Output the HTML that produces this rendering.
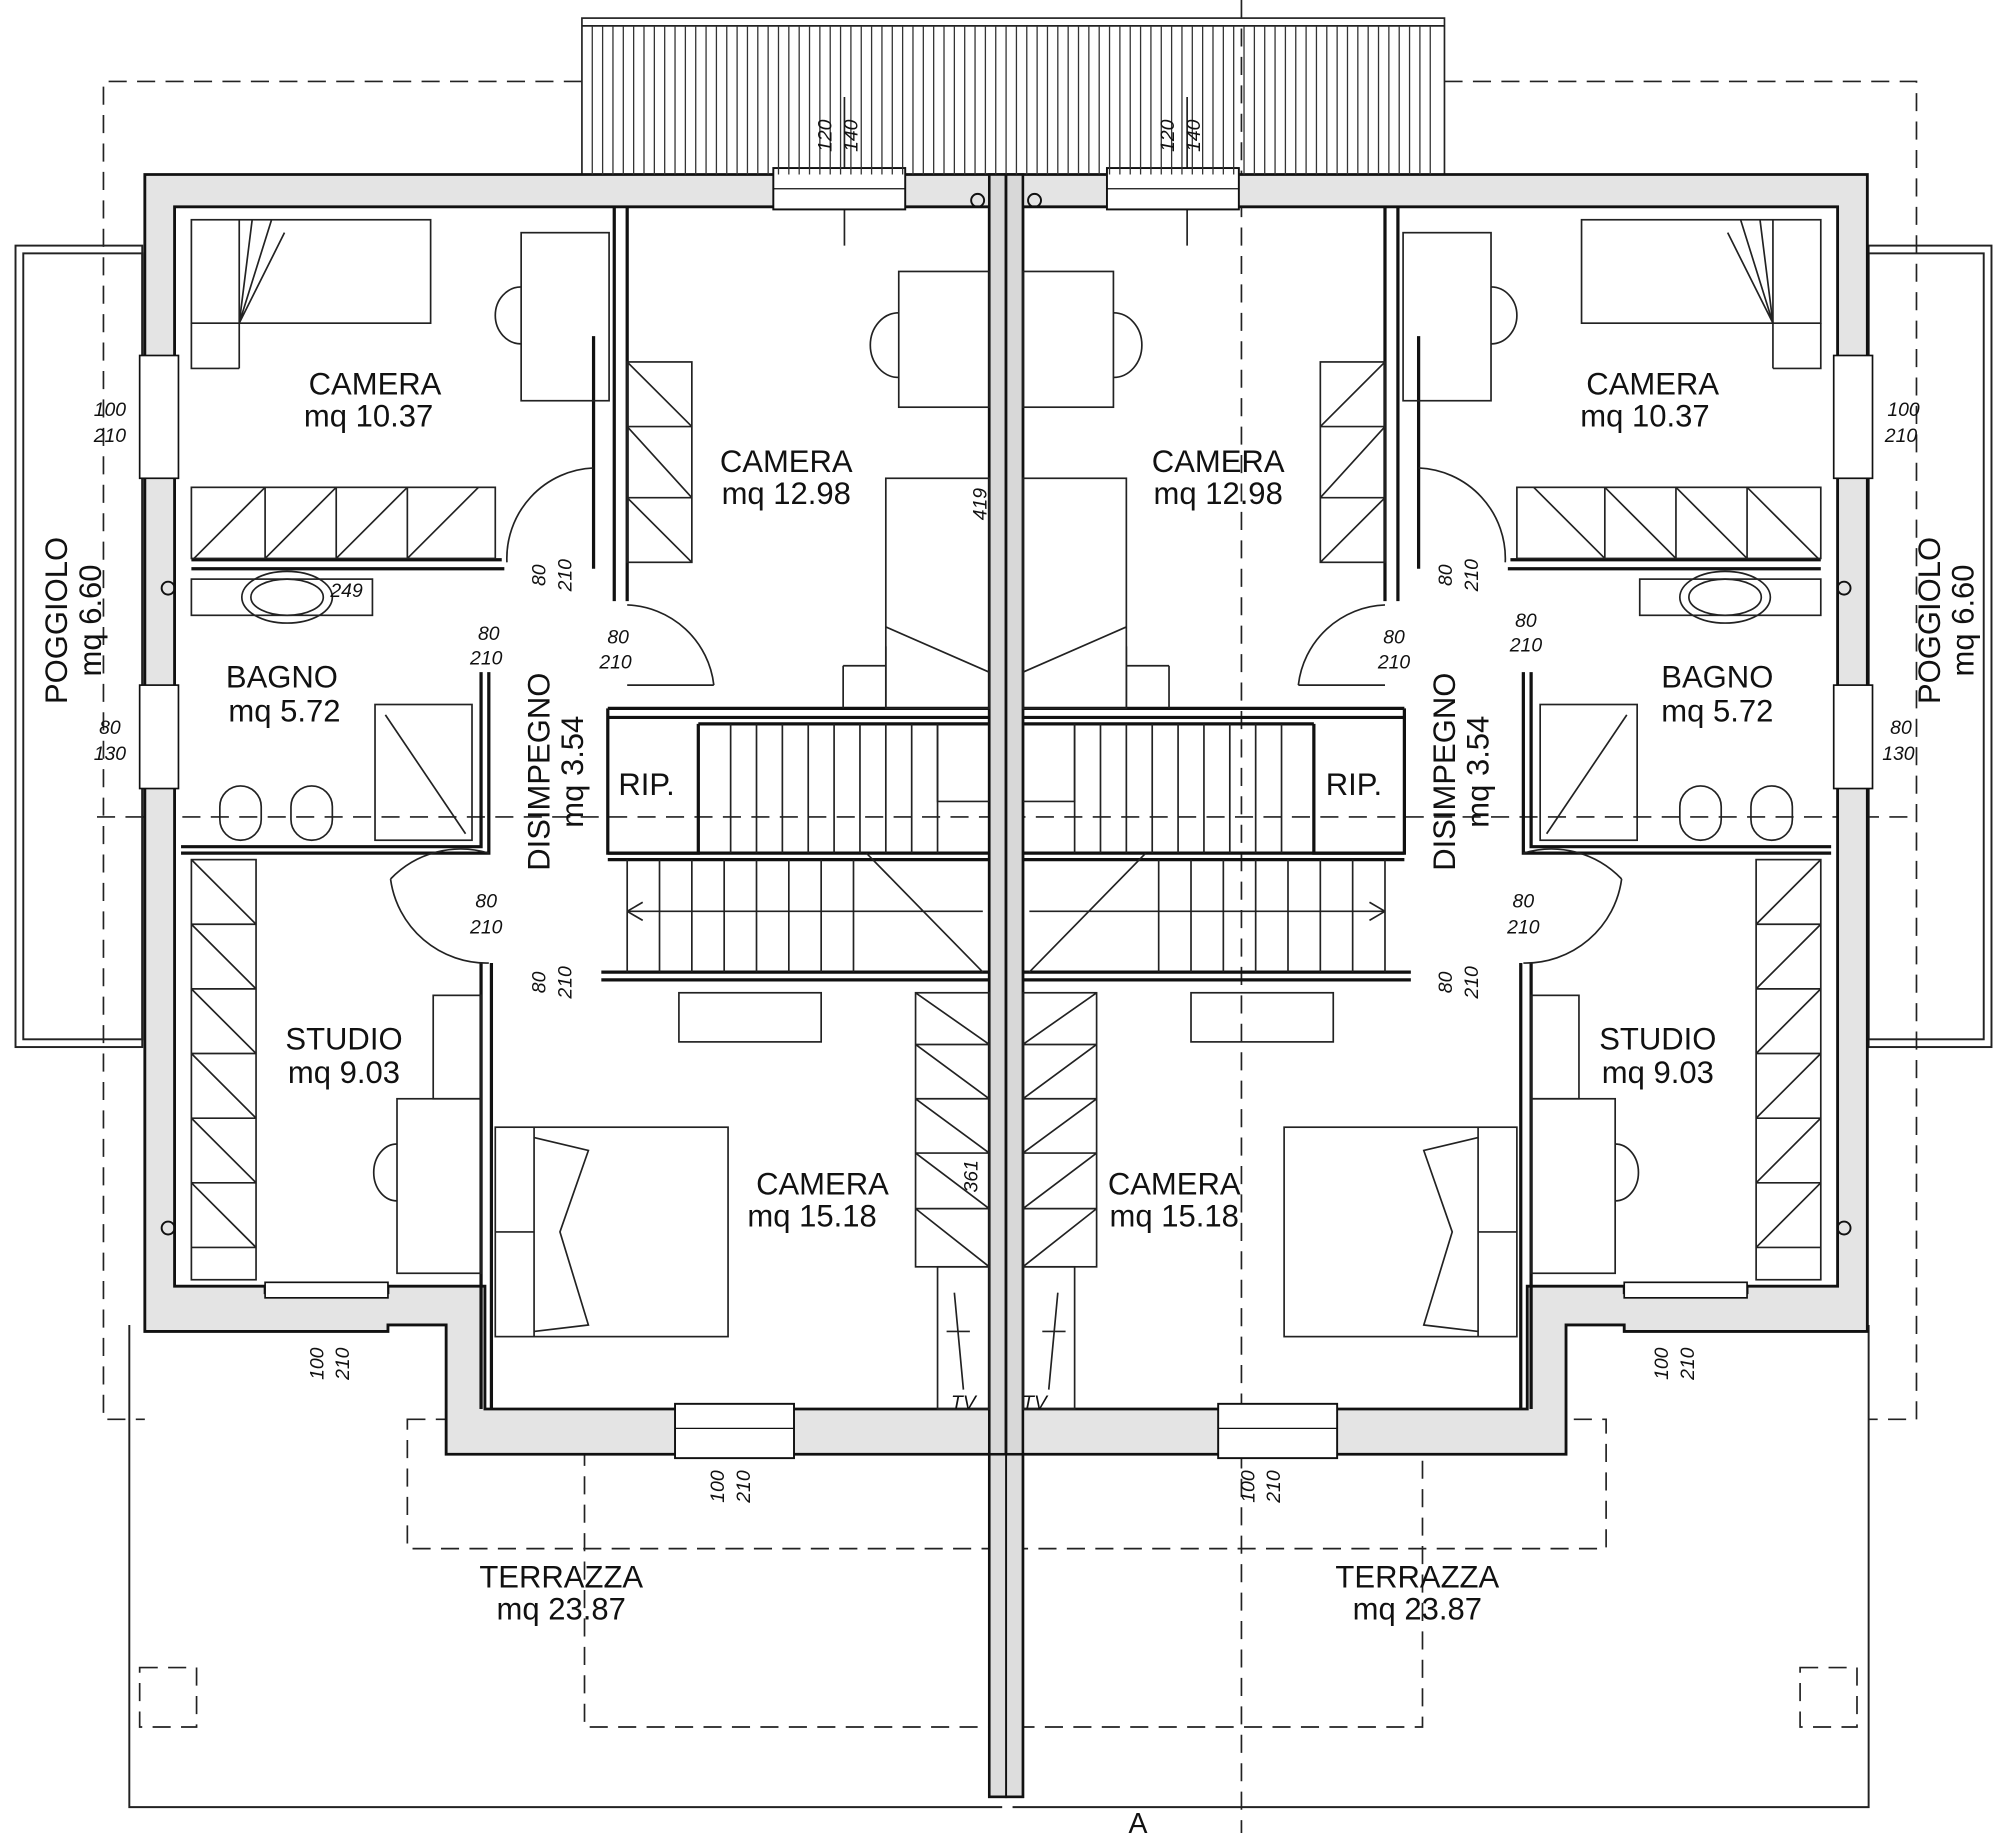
<!DOCTYPE html>
<html><head><meta charset="utf-8"><style>
html,body{margin:0;padding:0;background:#fff}
svg{display:block}
text{font-family:"Liberation Sans",sans-serif;fill:#111}
</style></head><body>
<svg width="2007" height="1833" viewBox="0 0 1552 1418" preserveAspectRatio="none" xmlns="http://www.w3.org/2000/svg">
<rect width="1552" height="1418" fill="#fff"/>
<!-- roof hatch -->
<g stroke="#222" stroke-width="1.3" fill="none">
<rect x="450" y="14" width="667" height="121"/>
<line x1="450" y1="20" x2="1117" y2="20"/>
</g>
<g stroke="#333" stroke-width="1">
<script type="text/plain"></script>
</g>
<g id="hatch" stroke="#333" stroke-width="1"></g>
<!-- dashed outlines -->
<g stroke="#222" stroke-width="1.3" fill="none" stroke-dasharray="14,8">
<path d="M450,63 H80 V1098 H112"/>
<path d="M1117,63 H1482 V1098 H1445"/>
<line x1="75" y1="632" x2="1478" y2="632"/>
<line x1="960" y1="0" x2="960" y2="1418"/>
<line x1="653" y1="75" x2="653" y2="190" stroke-dasharray="none"/>
<line x1="918" y1="75" x2="918" y2="190" stroke-dasharray="none"/>
<rect x="315" y="1098" width="927" height="100"/>
<rect x="452" y="1118" width="648" height="218"/>
<rect x="108" y="1290" width="44" height="46"/>
<rect x="1392" y="1290" width="44" height="46"/>
</g>
<!-- balconies -->
<g stroke="#222" stroke-width="1.5" fill="none">
<rect x="12" y="190" width="98" height="620"/><rect x="18" y="196" width="92" height="608"/>
<rect x="1445" y="190" width="95" height="620"/><rect x="1445" y="196" width="89" height="608"/>
</g>
<!-- terraces -->
<g stroke="#222" stroke-width="1.5" fill="none">
<path d="M100,1025 V1398 H775"/><path d="M1445,1025 V1398 H783"/>
</g>
<defs>
<g id="half">
<path fill="#e4e4e4" fill-rule="evenodd" stroke="#111" stroke-width="2.2"
 d="M112,135 H778 V1125 H345 V1025 H300 V1030 H112 Z M135,160 V995 H205 V1000 H300 V995 H375 V1090 H765 V160 Z"/>
<!-- center wall -->
<rect x="765" y="135" width="13" height="1255" fill="#d8d8d8" stroke="#111" stroke-width="2"/>
<!-- window gaps top -->
<rect x="598" y="130" width="102" height="32" fill="#fff" stroke="#111" stroke-width="1.5"/>
<line x1="598" y1="146" x2="700" y2="146" stroke="#111"/>
<rect x="522" y="1086" width="92" height="42" fill="#fff" stroke="#111" stroke-width="1.5"/>
<line x1="522" y1="1105" x2="614" y2="1105" stroke="#111"/>
<rect x="205" y="992" width="95" height="12" fill="#fff" stroke="#111" stroke-width="1.3"/>
<rect x="108" y="275" width="30" height="95" fill="#fff" stroke="#111" stroke-width="1.3"/>
<rect x="108" y="530" width="30" height="80" fill="#fff" stroke="#111" stroke-width="1.3"/>
<circle cx="756" cy="155" r="5" fill="none" stroke="#111" stroke-width="1.5"/>
<circle cx="130" cy="455" r="5" fill="none" stroke="#111" stroke-width="1.5"/>
<circle cx="130" cy="950" r="5" fill="none" stroke="#111" stroke-width="1.5"/>
<g stroke="#111" fill="none" stroke-width="2.5">
<path d="M148,440 H390 M148,433 H388"/>
<path d="M140,660 H378 V520"/><path d="M140,655 H372 V520"/>
<path d="M475,160 V465 M485,160 V465"/>
<path d="M372,745 V1090 M380,745 V1090"/>
<path d="M470,548 H765 M470,555 H765"/>
<path d="M470,548 V660 H540 V560 M540,560 H765"/>
<path d="M470,660 H765 M470,665 H765"/>
<path d="M465,752 H765 M465,758 H765"/>
<path d="M459,260 V440"/>
</g>
<g stroke="#222" fill="none" stroke-width="1.3">
<!-- stairs -->
<path d="M565,560 V660 M585,560 V660 M605,560 V660 M625,560 V660 M645,560 V660 M665,560 V660 M685,560 V660 M705,560 V660 M725,560 V660"/>
<path d="M485,665 V752 M510,665 V752 M535,665 V752 M560,665 V752 M585,665 V752 M610,665 V752 M635,665 V752 M660,665 V752"/>
<path d="M670,660 L760,752 M725,560 V620 H765"/>
<path d="M485,705 H760 M485,705 l12,-7 M485,705 l12,7"/>
<!-- camera 10.37 -->
<rect x="148" y="170" width="185" height="80"/><path d="M185,170 V285 M148,250 V285 H185"/>
<path d="M195,170 L185,250 M210,170 L185,250 M220,180 L185,250"/>
<rect x="403" y="180" width="68" height="130"/><path d="M403,222 a20,22 0 0 0 0,44"/>
<rect x="148" y="377" width="235" height="55"/>
<path d="M205,377 V432 M260,377 V432 M315,377 V432 M150,432 L205,377 M205,432 L260,377 M260,432 L315,377 M315,432 L370,377"/>
<path d="M459,362 A70,70 0 0 0 392,435"/>
<!-- camera 12.98 -->
<rect x="695" y="210" width="70" height="105"/><path d="M695,242 a22,25 0 0 0 0,50"/>
<rect x="485" y="280" width="50" height="155"/>
<path d="M485,330 H535 M485,385 H535 M485,280 L535,330 M485,330 L535,385 M485,385 L535,435"/>
<rect x="685" y="370" width="80" height="178"/>
<path d="M685,485 L765,520 M685,500 V548 M652,515 H685 V548 M652,515 V548"/>
<path d="M485,468 A70,70 0 0 1 552,530 M485,530 H552"/>
<!-- bagno -->
<rect x="148" y="448" width="140" height="28"/><ellipse cx="222" cy="462" rx="35" ry="20"/><ellipse cx="222" cy="462" rx="28" ry="14"/>
<rect x="290" y="545" width="75" height="105"/><line x1="298" y1="553" x2="360" y2="645"/>
<rect x="170" y="608" width="32" height="42" rx="16"/><rect x="225" y="608" width="32" height="42" rx="16"/>
<path d="M378,660 A75,75 0 0 0 302,680 M302,680 A75,75 0 0 0 378,745"/>
<!-- studio -->
<rect x="148" y="665" width="50" height="325"/>
<path d="M148,715 H198 M148,765 H198 M148,815 H198 M148,865 H198 M148,915 H198 M148,965 H198"/>
<path d="M148,665 L198,715 M148,715 L198,765 M148,765 L198,815 M148,815 L198,865 M148,865 L198,915 M148,915 L198,965"/>
<rect x="307" y="850" width="65" height="135"/><path d="M307,885 a18,22 0 0 0 0,44"/>
<rect x="335" y="770" width="37" height="80"/>
<!-- camera 15.18 -->
<rect x="525" y="768" width="110" height="38"/>
<rect x="383" y="872" width="180" height="162"/><path d="M383,953 H413 M413,872 V1034"/>
<path d="M413,880 L455,890 L433,953 L455,1025 L413,1030"/>
<rect x="708" y="768" width="57" height="212"/>
<path d="M708,808 H765 M708,850 H765 M708,892 H765 M708,935 H765 M708,768 L765,808 M708,808 L765,850 M708,850 L765,892 M708,892 L765,935 M708,935 L765,980"/>
<rect x="725" y="980" width="40" height="110"/><path d="M738,1000 L745,1075 M732,1030 h18"/>
</g>
</g>
</defs>
<use href="#half"/>
<use href="#half" transform="translate(1556,0) scale(-1,1)"/>
<!-- center wall extension into terraces -->
<rect x="765" y="1125" width="26" height="265" fill="#ddd" stroke="#111" stroke-width="2"/>
<line x1="778" y1="1125" x2="778" y2="1390" stroke="#111" stroke-width="1.5"/>
<!-- hatch lines -->
<g stroke="#333" stroke-width="1">
<path d="M458,20V135M466,20V135M474,20V135M482,20V135M490,20V135M498,20V135M506,20V135M514,20V135M522,20V135M530,20V135M538,20V135M546,20V135M554,20V135M562,20V135M570,20V135M578,20V135M586,20V135M594,20V135M602,20V135M610,20V135M618,20V135M626,20V135M634,20V135M642,20V135M650,20V135M658,20V135M666,20V135M674,20V135M682,20V135M690,20V135M698,20V135M706,20V135M714,20V135M722,20V135M730,20V135M738,20V135M746,20V135M754,20V135M762,20V135M770,20V135M778,20V135M786,20V135M794,20V135M802,20V135M810,20V135M818,20V135M826,20V135M834,20V135M842,20V135M850,20V135M858,20V135M866,20V135M874,20V135M882,20V135M890,20V135M898,20V135M906,20V135M914,20V135M922,20V135M930,20V135M938,20V135M946,20V135M954,20V135M962,20V135M970,20V135M978,20V135M986,20V135M994,20V135M1002,20V135M1010,20V135M1018,20V135M1026,20V135M1034,20V135M1042,20V135M1050,20V135M1058,20V135M1066,20V135M1074,20V135M1082,20V135M1090,20V135M1098,20V135M1106,20V135"/>
</g>
<!-- labels -->
<g font-size="24" text-anchor="middle">
<text x="290" y="305">CAMERA</text><text x="285" y="330">mq  10.37</text>
<text x="608" y="365">CAMERA</text><text x="608" y="390">mq  12.98</text>
<text x="942" y="365">CAMERA</text><text x="942" y="390">mq  12.98</text>
<text x="1278" y="305">CAMERA</text><text x="1272" y="330">mq  10.37</text>
<text x="218" y="532">BAGNO</text><text x="220" y="558">mq  5.72</text>
<text x="1328" y="532">BAGNO</text><text x="1328" y="558">mq  5.72</text>
<text x="266" y="812">STUDIO</text><text x="266" y="838">mq  9.03</text>
<text x="1282" y="812">STUDIO</text><text x="1282" y="838">mq  9.03</text>
<text x="636" y="924">CAMERA</text><text x="628" y="949">mq  15.18</text>
<text x="908" y="924">CAMERA</text><text x="908" y="949">mq  15.18</text>
<text x="434" y="1228">TERRAZZA</text><text x="434" y="1253">mq  23.87</text>
<text x="1096" y="1228">TERRAZZA</text><text x="1096" y="1253">mq  23.87</text>
<text x="500" y="615">RIP.</text><text x="1047" y="615">RIP.</text>
<text transform="translate(52,480) rotate(-90)">POGGIOLO</text>
<text transform="translate(78,480) rotate(-90)">mq  6.60</text>
<text transform="translate(1500,480) rotate(-90)">POGGIOLO</text>
<text transform="translate(1526,480) rotate(-90)">mq  6.60</text>
<text transform="translate(425,597) rotate(-90)">DISIMPEGNO</text>
<text transform="translate(451,597) rotate(-90)">mq  3.54</text>
<text transform="translate(1125,597) rotate(-90)">DISIMPEGNO</text>
<text transform="translate(1151,597) rotate(-90)">mq  3.54</text>
</g>
<g font-size="15" font-style="italic" text-anchor="middle">
<text x="85" y="322">100</text><text x="85" y="342">210</text>
<text x="85" y="568">80</text><text x="85" y="588">130</text>
<text x="1472" y="322">100</text><text x="1470" y="342">210</text>
<text x="1470" y="568">80</text><text x="1468" y="588">130</text>
<text x="378" y="495">80</text><text x="376" y="514">210</text>
<text x="478" y="498">80</text><text x="476" y="517">210</text>
<text x="376" y="702">80</text><text x="376" y="722">210</text>
<text x="1078" y="498">80</text><text x="1078" y="517">210</text>
<text x="1180" y="485">80</text><text x="1180" y="504">210</text>
<text x="1178" y="702">80</text><text x="1178" y="722">210</text>
<text x="268" y="462">249</text>
<text transform="translate(422,445) rotate(-90)">80</text><text transform="translate(442,445) rotate(-90)">210</text>
<text transform="translate(422,760) rotate(-90)">80</text><text transform="translate(442,760) rotate(-90)">210</text>
<text transform="translate(1123,445) rotate(-90)">80</text><text transform="translate(1143,445) rotate(-90)">210</text>
<text transform="translate(1123,760) rotate(-90)">80</text><text transform="translate(1143,760) rotate(-90)">210</text>
<text transform="translate(643,105) rotate(-90)">120</text><text transform="translate(663,105) rotate(-90)">140</text>
<text transform="translate(908,105) rotate(-90)">120</text><text transform="translate(928,105) rotate(-90)">140</text>
<text transform="translate(763,390) rotate(-90)">419</text>
<text transform="translate(756,910) rotate(-90)">361</text>
<text transform="translate(250,1055) rotate(-90)">100</text><text transform="translate(270,1055) rotate(-90)">210</text>
<text transform="translate(1290,1055) rotate(-90)">100</text><text transform="translate(1310,1055) rotate(-90)">210</text>
<text transform="translate(560,1150) rotate(-90)">100</text><text transform="translate(580,1150) rotate(-90)">210</text>
<text transform="translate(970,1150) rotate(-90)">100</text><text transform="translate(990,1150) rotate(-90)">210</text>
<text x="745" y="1090">TV</text><text x="800" y="1090">TV</text>
<text x="880" y="1418" font-size="22" font-style="normal">A</text>
</g>
</svg>
</body></html>
